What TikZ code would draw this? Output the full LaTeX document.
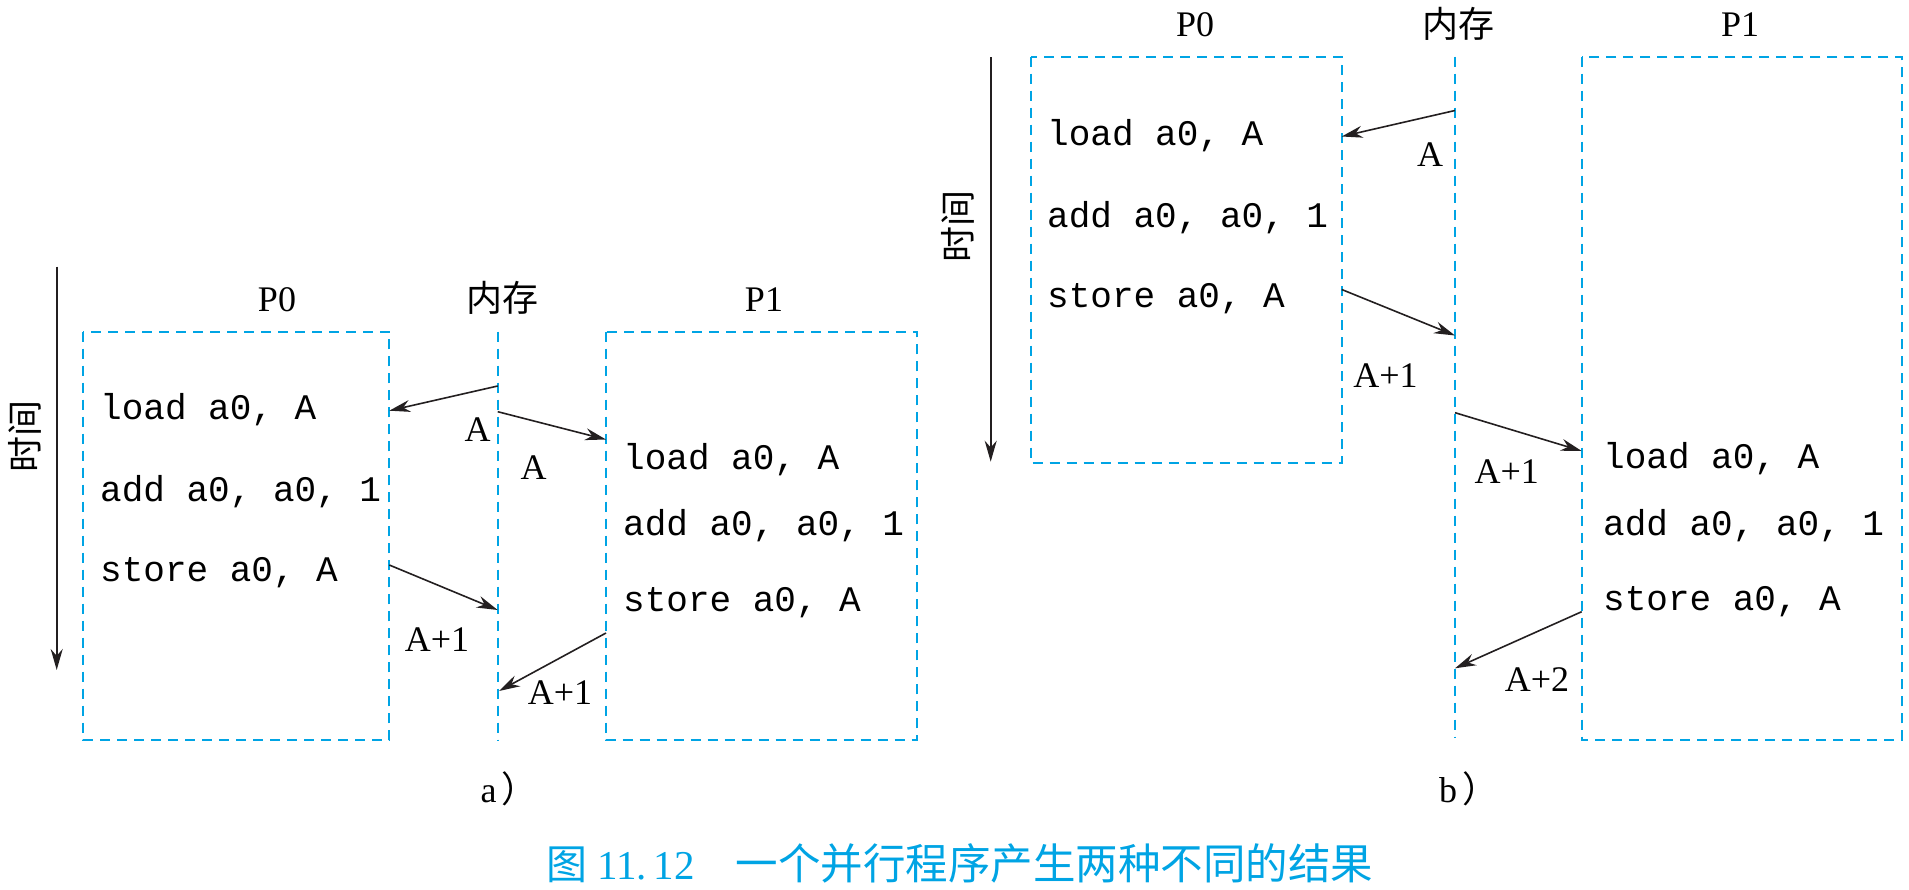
\documentclass[tikz,border=0pt]{standalone}
\usepackage{fontspec}
\setmainfont{Liberation Serif}
\setmonofont{Liberation Mono}
\newfontfamily\cjk{Noto Sans CJK SC}
\usetikzlibrary{arrows.meta}
\definecolor{dashblue}{RGB}{0,164,228}
\definecolor{ink}{RGB}{35,31,32}

\begin{document}
\begin{tikzpicture}[x=1pt,y=-1pt,
    box/.style={draw=dashblue, line width=1.7pt, dash pattern=on 10pt off 7pt},
    msg/.style={draw=ink, line width=1.6pt, -{Stealth[length=21pt,width=12pt]}},
    code/.style={anchor=base west, inner sep=0pt, font=\fontsize{36}{40}\ttfamily},
    lbl/.style={inner sep=0pt, font=\fontsize{36}{40}\selectfont},
    zh/.style={inner sep=0pt, font=\fontsize{36}{40}\cjk}]
  \useasboundingbox (0,0) rectangle (1909,890);

  % a)
  \node[zh, rotate=90] (ta) at (25,436) {时间};
  \coordinate (ta1) at (56.7,266.7);
  \coordinate (ta2) at (56.7,670);
  \draw[msg] (ta1) -- (ta2);
  \node[lbl] (ap0) at (277,300) {P0};
  \node[zh] (amem) at (502,298) {内存};
  \node[lbl] (ap1) at (764,300) {P1};
  \draw[box] (83.3,331.7) rectangle (389.3,740);
  \draw[box] (606,331.7) rectangle (917,740);
  \draw[box] (497.7,331.7) -- (497.7,740);
  \node[code] (al0) at (100,420) {load a0, A};
  \node[code] (aa0) at (100,501.7) {add a0, a0, 1};
  \node[code] (as0) at (100,581.7) {store a0, A};
  \node[code] (al1) at (623,469) {load a0, A};
  \node[code] (aa1) at (623,535) {add a0, a0, 1};
  \node[code] (as1) at (623,611) {store a0, A};
  \coordinate (am1) at (497.7,386);
  \coordinate (ae1) at (389.3,410.7);
  \coordinate (am2) at (497.7,411.7);
  \coordinate (ae2) at (606,439.5);
  \coordinate (ae3) at (389.3,565);
  \coordinate (am3) at (497.7,610);
  \coordinate (ae4) at (606,633);
  \coordinate (am4) at (499,691);
  \draw[msg] (am1) -- (ae1);
  \draw[msg] (am2) -- (ae2);
  \draw[msg] (ae3) -- (am3);
  \draw[msg] (ae4) -- (am4);
  \node[lbl] (av1) at (477.5,430) {A};
  \node[lbl] (av2) at (533.5,468) {A};
  \node[lbl] (av3) at (437,640) {A+1};
  \node[lbl] (av4) at (560,693) {A+1};
  \node[anchor=base west, inner sep=0pt] (acap) at (480.5,802)
    {\fontsize{36}{40}\selectfont a\kern5pt{\cjk ）}};

  % b)
  \node[zh, rotate=90] (tb) at (958,227) {时间};
  \coordinate (tb1) at (990.7,57.3);
  \coordinate (tb2) at (990.7,461.7);
  \draw[msg] (tb1) -- (tb2);
  \node[lbl] (bp0) at (1195,25) {P0};
  \node[zh] (bmem) at (1458,24) {内存};
  \node[lbl] (bp1) at (1740,25) {P1};
  \draw[box] (1030.7,56.7) rectangle (1341.7,462.7);
  \draw[box] (1581.7,56.7) rectangle (1901.7,740);
  \draw[box] (1455,56.7) -- (1455,738);
  \node[code] (bl0) at (1047,146) {load a0, A};
  \node[code] (ba0) at (1047,227.7) {add a0, a0, 1};
  \node[code] (bs0) at (1047,307.7) {store a0, A};
  \node[code] (bl1) at (1603,468.3) {load a0, A};
  \node[code] (ba1) at (1603,535) {add a0, a0, 1};
  \node[code] (bs1) at (1603,610.7) {store a0, A};
  \coordinate (bm1) at (1455,110.5);
  \coordinate (be1) at (1341.7,136.5);
  \coordinate (be2) at (1341.7,289.5);
  \coordinate (bm2) at (1455,335.5);
  \coordinate (bm3) at (1455,412.7);
  \coordinate (be3) at (1581.7,451);
  \coordinate (be4) at (1581.7,611.7);
  \coordinate (bm4) at (1455,668.3);
  \draw[msg] (bm1) -- (be1);
  \draw[msg] (be2) -- (bm2);
  \draw[msg] (bm3) -- (be3);
  \draw[msg] (be4) -- (bm4);
  \node[lbl] (bv1) at (1430,155) {A};
  \node[lbl] (bv2) at (1385.5,376) {A+1};
  \node[lbl] (bv3) at (1506.7,472) {A+1};
  \node[lbl] (bv4) at (1537,680) {A+2};
  \node[anchor=base west, inner sep=0pt] (bcap) at (1439,802)
    {\fontsize{36}{40}\selectfont b\kern5pt{\cjk ）}};

  % caption
  \node[anchor=base west, inner sep=0pt, text=dashblue] (fig) at (546.7,879)
    {\fontsize{41}{44}\cjk 图 {\rmfamily 11.\,12}\quad
     {\fontsize{42.5}{44}\selectfont 一个并行程序产生两种不同的结果}};
\end{tikzpicture}
\end{document}
